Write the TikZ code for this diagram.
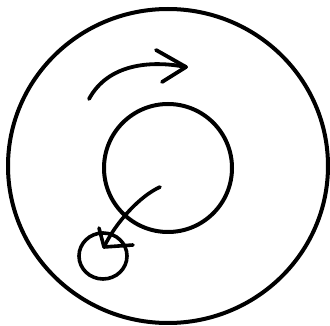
\documentclass[tikz,border=0pt]{standalone}
\begin{document}
\begin{tikzpicture}[x=1pt,y=-1pt,
  ink/.style={line width=4pt,line cap=round,line join=round,draw=black}]
\useasboundingbox (0,0) rectangle (330,326);
\fill[white] (0,0) rectangle (330,326);
\coordinate (oc) at (168,166);
\coordinate (ic) at (168,168);
\coordinate (sc) at (103,256);
\draw[ink] (oc) ellipse [x radius=160pt, y radius=157pt];
\draw[ink] (ic) circle [radius=64pt];
\draw[ink,line width=3.6pt] (sc) ellipse [x radius=24pt, y radius=23pt];
% top curved arrow
\coordinate (ta) at (89,99);
\coordinate (tb) at (186,67);
\draw[ink,line width=3.8pt] (ta) .. controls (108,64) and (150,60) .. (tb);
\draw[ink,line width=3.8pt] (156,50) -- (tb) -- (162,82);
% bottom curved arrow
\coordinate (ba) at (160,187);
\coordinate (bb) at (104,247);
\draw[ink,line width=3.6pt] (ba) .. controls (140,196) and (116,222) .. (bb);
\draw[ink,line width=3.6pt] (99,228) -- (bb) -- (133,245);
\end{tikzpicture}
\end{document}
